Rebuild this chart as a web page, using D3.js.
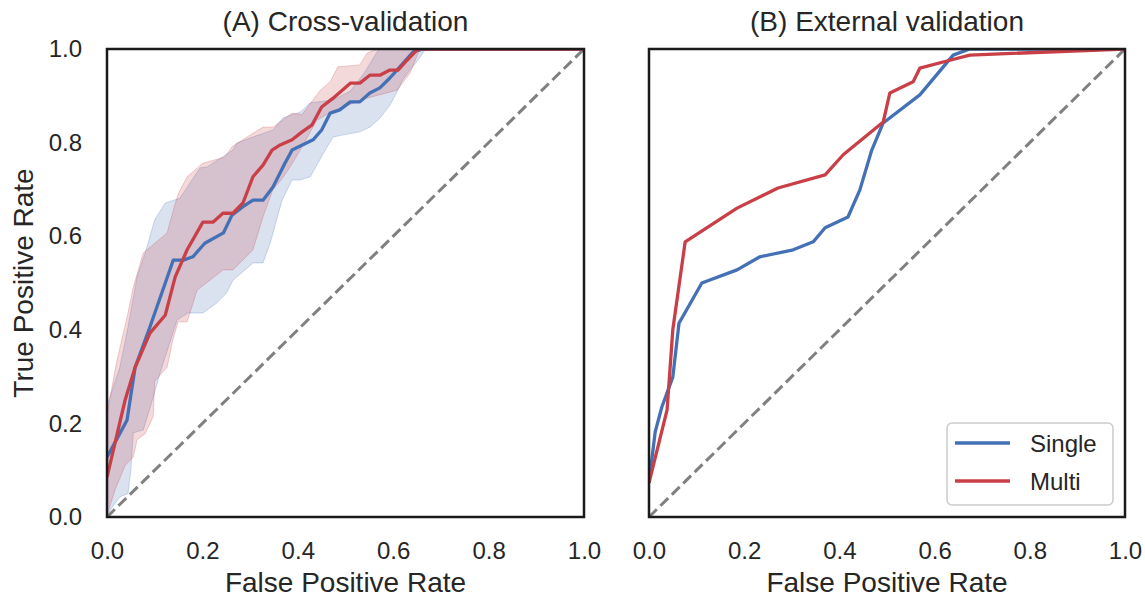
<!DOCTYPE html>
<html>
<head>
<meta charset="utf-8">
<script src="https://cdn.jsdelivr.net/npm/d3@7"></script>
<style>
  html, body { margin: 0; padding: 0; background: #ffffff; }
  svg { display: block; }
  text { font-family: "Liberation Sans", Arial, Helvetica, sans-serif; fill: #262626; }
</style>
</head>
<body>
<svg id="chart" width="1145" height="597"></svg>
<script>
// ---------- DATA (FPR, TPR) ----------
const seriesNames = ["Single", "Multi"];
const panelTitles = ["(A) Cross-validation", "(B) External validation"];
const tickValues = [0.0, 0.2, 0.4, 0.6, 0.8, 1.0];
const xLabel = "False Positive Rate";
const yLabel = "True Positive Rate";

// Panel A: cross-validation mean curves
const singleCV = [[0,0.128],[0.042,0.207],[0.059,0.32],[0.09,0.406],[0.139,0.549],[0.16,0.549],[0.18,0.556],[0.205,0.585],[0.244,0.607],[0.262,0.645],[0.285,0.663],[0.306,0.677],[0.327,0.677],[0.348,0.705],[0.373,0.756],[0.388,0.784],[0.432,0.806],[0.45,0.827],[0.468,0.863],[0.488,0.87],[0.51,0.887],[0.53,0.887],[0.551,0.906],[0.572,0.917],[0.593,0.938],[0.614,0.962],[0.642,0.994],[0.662,1.0],[1,1]];
const multiCV = [[0,0.085],[0.038,0.25],[0.059,0.32],[0.09,0.393],[0.122,0.431],[0.143,0.513],[0.168,0.571],[0.201,0.63],[0.222,0.63],[0.243,0.649],[0.264,0.649],[0.285,0.671],[0.306,0.727],[0.327,0.752],[0.346,0.784],[0.363,0.795],[0.388,0.806],[0.409,0.823],[0.43,0.838],[0.45,0.876],[0.474,0.895],[0.51,0.927],[0.53,0.927],[0.551,0.944],[0.572,0.944],[0.593,0.955],[0.61,0.955],[0.629,0.976],[0.65,0.998],[0.655,1.0],[1,1]];

// Panel A: +/- 1 std bands
const singleCVUpper = [[0,0.24],[0.006,0.256],[0.027,0.32],[0.044,0.406],[0.063,0.513],[0.08,0.564],[0.1,0.635],[0.122,0.671],[0.153,0.681],[0.178,0.72],[0.195,0.746],[0.21,0.748],[0.264,0.784],[0.272,0.799],[0.306,0.812],[0.348,0.827],[0.369,0.853],[0.405,0.865],[0.426,0.885],[0.474,0.891],[0.51,0.91],[0.54,0.95],[0.57,1.0],[1,1]];
const singleCVLower = [[0,0],[0.01,0.02],[0.027,0.043],[0.044,0.05],[0.05,0.1],[0.055,0.18],[0.076,0.186],[0.097,0.256],[0.111,0.307],[0.147,0.421],[0.17,0.436],[0.201,0.436],[0.23,0.457],[0.251,0.479],[0.264,0.506],[0.285,0.524],[0.306,0.543],[0.327,0.543],[0.342,0.585],[0.367,0.677],[0.388,0.72],[0.405,0.72],[0.426,0.727],[0.461,0.79],[0.474,0.812],[0.488,0.815],[0.53,0.823],[0.551,0.833],[0.572,0.852],[0.593,0.88],[0.608,0.908],[0.62,0.934],[0.635,0.955],[0.652,0.976],[0.667,0.998],[0.68,1.0],[1,1]];
const multiCVUpper = [[0,0.22],[0.02,0.33],[0.044,0.436],[0.055,0.491],[0.076,0.564],[0.1,0.585],[0.126,0.607],[0.143,0.67],[0.15,0.692],[0.168,0.727],[0.201,0.756],[0.247,0.769],[0.262,0.791],[0.306,0.82],[0.327,0.833],[0.348,0.833],[0.388,0.863],[0.409,0.86],[0.432,0.891],[0.447,0.912],[0.468,0.93],[0.484,0.962],[0.53,0.966],[0.545,0.991],[0.566,1.0],[1,1]];
const multiCVLower = [[0,0],[0.005,0.02],[0.017,0.058],[0.038,0.11],[0.055,0.128],[0.063,0.165],[0.08,0.178],[0.097,0.215],[0.1,0.29],[0.126,0.32],[0.138,0.378],[0.149,0.417],[0.168,0.417],[0.189,0.485],[0.216,0.506],[0.243,0.528],[0.264,0.528],[0.285,0.549],[0.306,0.571],[0.327,0.641],[0.348,0.7],[0.365,0.72],[0.384,0.748],[0.405,0.784],[0.44,0.848],[0.474,0.868],[0.495,0.876],[0.545,0.895],[0.608,0.912],[0.635,0.948],[0.656,1.0],[1,1]];

// Panel B: external validation curves
const singleExt = [[0,0.073],[0.013,0.182],[0.027,0.235],[0.05,0.299],[0.063,0.414],[0.111,0.5],[0.185,0.528],[0.233,0.556],[0.303,0.571],[0.345,0.588],[0.37,0.618],[0.418,0.641],[0.443,0.699],[0.468,0.784],[0.492,0.842],[0.569,0.902],[0.639,0.987],[0.674,1.0],[1,1]];
const multiExt = [[0,0.073],[0.038,0.229],[0.05,0.4],[0.076,0.588],[0.185,0.66],[0.271,0.703],[0.37,0.731],[0.408,0.774],[0.492,0.844],[0.506,0.906],[0.555,0.93],[0.569,0.959],[0.632,0.976],[0.674,0.987],[1,1]];

const chance = [[0,0],[1,1]];

// ---------- STYLE ----------
const colors = { Single: "#4470b5", Multi: "#c93f48" };
const svg = d3.select("#chart");

const panels = [
  { x0: 107, x1: 584, y0: 49, y1: 517, showY: true, title: panelTitles[0] },
  { x0: 649, x1: 1125, y0: 49, y1: 517, showY: false, title: panelTitles[1] }
];

panels.forEach((p, i) => {
  p.x = d3.scaleLinear().domain([0, 1]).range([p.x0, p.x1]);
  p.y = d3.scaleLinear().domain([0, 1]).range([p.y1, p.y0]);
  p.line = d3.line().x(d => p.x(d[0])).y(d => p.y(d[1]));
  const clipId = "clip" + i;
  svg.append("clipPath").attr("id", clipId)
    .append("rect").attr("x", p.x0).attr("y", p.y0)
    .attr("width", p.x1 - p.x0).attr("height", p.y1 - p.y0);
  p.g = svg.append("g").attr("clip-path", `url(#${clipId})`);
});

// Panel A bands
const pA = panels[0];
function band(upper, lower, color) {
  const poly = upper.concat(lower.slice().reverse());
  pA.g.append("path")
    .attr("d", pA.line(poly) + "Z")
    .attr("fill", color).attr("fill-opacity", 0.2)
    .attr("stroke", color).attr("stroke-opacity", 0.25).attr("stroke-width", 1);
}
band(singleCVUpper, singleCVLower, colors.Single);
band(multiCVUpper, multiCVLower, colors.Multi);

// chance lines
panels.forEach(p => {
  p.g.append("path").attr("d", p.line(chance))
    .attr("fill", "none").attr("stroke", "#808080")
    .attr("stroke-width", 3).attr("stroke-dasharray", "11,5");
});

// mean curves
function curve(p, data, color) {
  p.g.append("path").attr("d", p.line(data))
    .attr("fill", "none").attr("stroke", color)
    .attr("stroke-width", 3.3).attr("stroke-linejoin", "round");
}
curve(pA, singleCV, colors.Single);
curve(pA, multiCV, colors.Multi);
curve(panels[1], singleExt, colors.Single);
curve(panels[1], multiExt, colors.Multi);

// axes, frames, titles
panels.forEach(p => {
  const xa = svg.append("g").attr("transform", `translate(0,${p.y1})`)
    .call(d3.axisBottom(p.x).tickValues(tickValues).tickFormat(d3.format(".1f")).tickSize(0).tickPadding(25));
  xa.select(".domain").remove();
  xa.selectAll("text").attr("font-size", 24).attr("fill", "#262626")
    .style("font-family", '"Liberation Sans", Arial, sans-serif');

  if (p.showY) {
    const ya = svg.append("g").attr("transform", `translate(${p.x0},0)`)
      .call(d3.axisLeft(p.y).tickValues(tickValues).tickFormat(d3.format(".1f")).tickSize(0).tickPadding(25));
    ya.select(".domain").remove();
    ya.selectAll("text").attr("font-size", 24).attr("fill", "#262626")
      .style("font-family", '"Liberation Sans", Arial, sans-serif');
  }

  svg.append("rect").attr("x", p.x0).attr("y", p.y0)
    .attr("width", p.x1 - p.x0).attr("height", p.y1 - p.y0)
    .attr("fill", "none").attr("stroke", "#1a1a1a").attr("stroke-width", 2.5);

  svg.append("text").attr("x", (p.x0 + p.x1) / 2).attr("y", 31)
    .attr("text-anchor", "middle").attr("font-size", 28).text(p.title);

  svg.append("text").attr("x", (p.x0 + p.x1) / 2).attr("y", 592)
    .attr("text-anchor", "middle").attr("font-size", 28).text(xLabel);
});

svg.append("text")
  .attr("transform", `translate(33,${(pA.y0 + pA.y1) / 2}) rotate(-90)`)
  .attr("text-anchor", "middle").attr("font-size", 28).text(yLabel);

// legend
const lg = svg.append("g");
lg.append("rect").attr("x", 947).attr("y", 423).attr("width", 166).attr("height", 82)
  .attr("rx", 5).attr("fill", "#ffffff").attr("fill-opacity", 0.8)
  .attr("stroke", "#cccccc").attr("stroke-width", 1.5);
seriesNames.forEach((name, i) => {
  const yy = 443 + i * 38;
  lg.append("line").attr("x1", 955).attr("x2", 1010).attr("y1", yy).attr("y2", yy)
    .attr("stroke", colors[name]).attr("stroke-width", 3.3);
  lg.append("text").attr("x", 1030).attr("y", yy + 8.5).attr("font-size", 24).text(name);
});
</script>
</body>
</html>
